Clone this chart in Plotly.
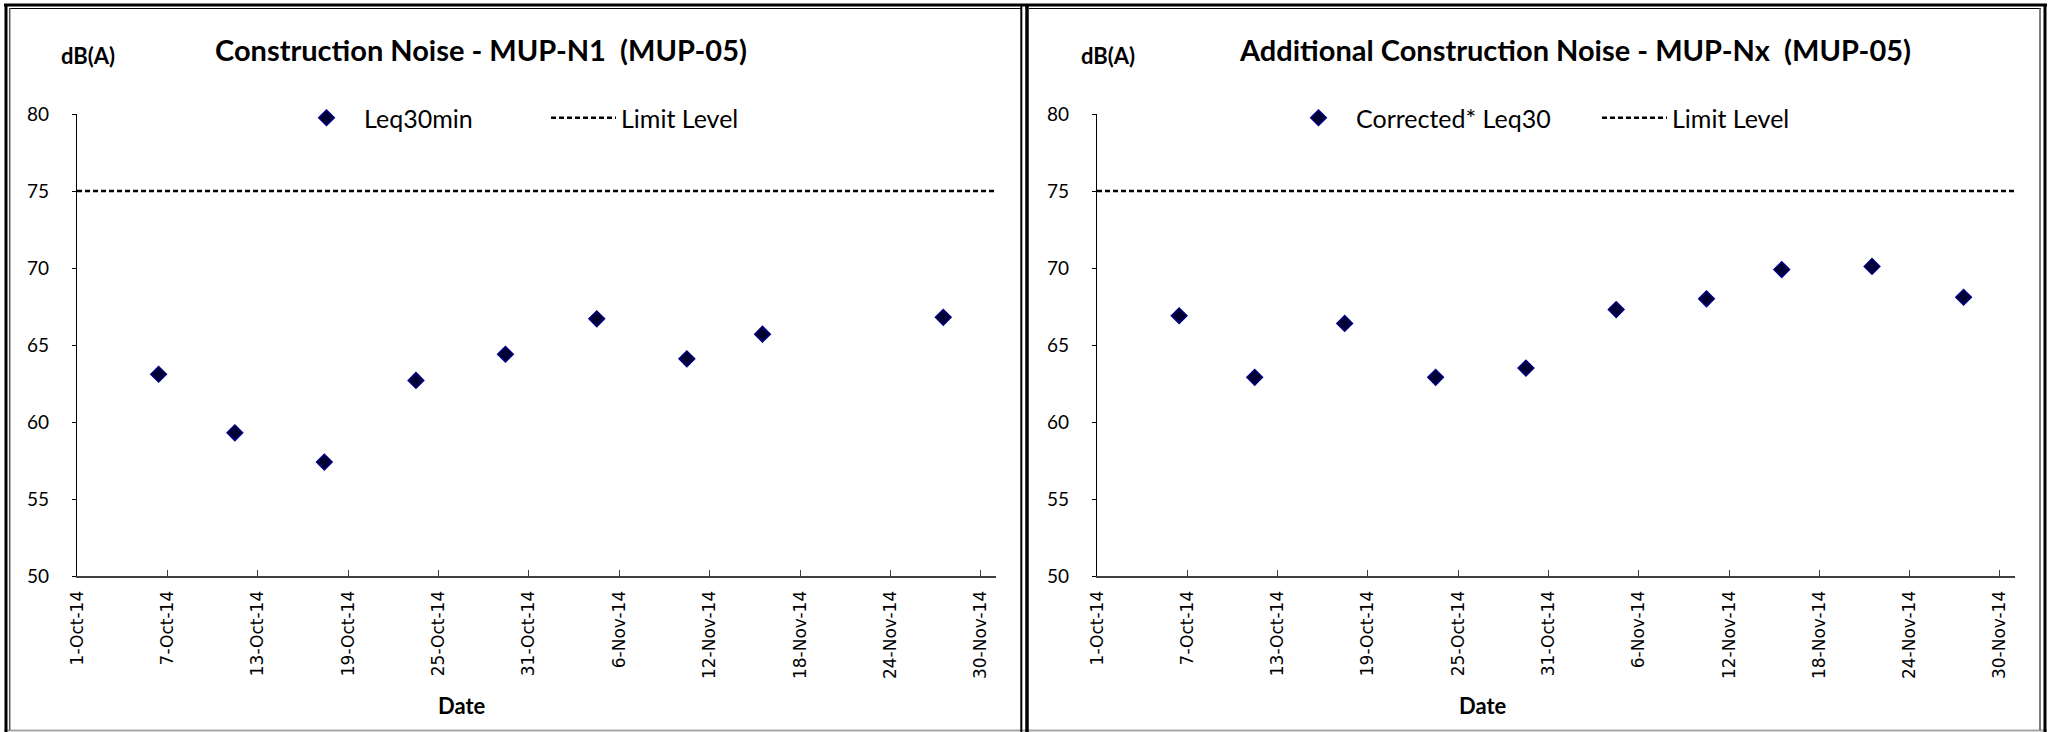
import plotly.graph_objects as go

# ---------------- data ----------------
left_dates = ["2014-10-06 10:00", "2014-10-11 11:30", "2014-10-17 10:00", "2014-10-23 12:00",
              "2014-10-29 10:30", "2014-11-04 12:00", "2014-11-10 11:30", "2014-11-15 12:00",
              "2014-11-27 12:00"]
left_leq30 = [63.1, 59.3, 57.4, 62.7, 64.4, 66.7, 64.1, 65.7, 66.8]

right_dates = ["2014-10-06 11:00", "2014-10-11 11:30", "2014-10-17 11:00", "2014-10-23 12:00",
               "2014-10-29 12:00", "2014-11-04 12:00", "2014-11-10 12:00", "2014-11-15 12:00",
               "2014-11-21 12:00", "2014-11-27 14:00"]
right_corrected = [66.9, 62.9, 66.4, 62.9, 63.5, 67.3, 68.0, 69.9, 70.1, 68.1]

limit_dates = ["2014-10-01", "2014-12-01"]
limit_level = [75, 75]

tick_dates = ["2014-10-01", "2014-10-07", "2014-10-13", "2014-10-19", "2014-10-25", "2014-10-31",
              "2014-11-06", "2014-11-12", "2014-11-18", "2014-11-24", "2014-11-30"]
tick_labels = ["1-Oct-14", "7-Oct-14", "13-Oct-14", "19-Oct-14", "25-Oct-14", "31-Oct-14",
               "6-Nov-14", "12-Nov-14", "18-Nov-14", "24-Nov-14", "30-Nov-14"]
y_ticks = [50, 55, 60, 65, 70, 75, 80]

titles = ["Construction Noise - MUP-N1\u00a0\u00a0(MUP-05)",
          "Additional Construction Noise - MUP-Nx\u00a0\u00a0(MUP-05)"]
series_names = ["Leq30min", "Corrected* Leq30"]

# ---------------- layout helpers ----------------
W, H = 2049, 732
def px(x):
    return x / W
def py(y):
    return 1 - y / H

CAL = "Lato, Calibri, Carlito, sans-serif"
MARK_FILL = "#000033"
MARK_LINE = "#00007f"

fig = go.Figure()

panels = [
    dict(xa="x", ya="y", leg="legend", dates=left_dates, vals=left_leq30),
    dict(xa="x2", ya="y2", leg="legend2", dates=right_dates, vals=right_corrected),
]

for i, p in enumerate(panels):
    fig.add_trace(go.Scatter(
        x=p["dates"], y=p["vals"], mode="markers", name=series_names[i],
        marker=dict(symbol="diamond", size=12, color=MARK_FILL,
                    line=dict(color=MARK_LINE, width=1.5)),
        xaxis=p["xa"], yaxis=p["ya"], legend=p["leg"], hoverinfo="x+y"))
    fig.add_trace(go.Scatter(
        x=limit_dates, y=limit_level, mode="lines", name="Limit Level",
        line=dict(color="black", width=2.5, dash="5px,3px"),
        xaxis=p["xa"], yaxis=p["ya"], legend=p["leg"], hoverinfo="skip"))

ydom = (py(576), py(114))
xcommon = dict(type="date", range=["2014-10-01", "2014-12-01"], tickvals=tick_dates,
               ticktext=tick_labels, tickangle=-90, ticks="inside", ticklen=6,
               tickcolor="#404040", tickwidth=1.2, showline=True, linecolor="#404040",
               linewidth=2, showgrid=False, zeroline=False, ticklabelstandoff=6,
               automargin=False,
               tickfont=dict(family="DejaVu Sans", size=17, color="black"))
ycommon = dict(range=[50, 80], tickvals=y_ticks, ticks="outside", ticklen=4,
               tickcolor="black", tickwidth=1, showline=True, linecolor="black",
               linewidth=1.2, showgrid=False, zeroline=False, ticklabelstandoff=19,
               automargin=False,
               tickfont=dict(family=CAL, size=19, color="black"))

fig.update_layout(
    template="none",
    width=W, height=H, autosize=False,
    margin=dict(l=0, r=0, t=0, b=0, pad=0),
    paper_bgcolor="white", plot_bgcolor="white",
    xaxis=dict(domain=(px(77), px(996)), anchor="y", **xcommon),
    yaxis=dict(domain=ydom, anchor="x", **ycommon),
    xaxis2=dict(domain=(px(1097), px(2015)), anchor="y2", **xcommon),
    yaxis2=dict(domain=ydom, anchor="x2", **ycommon),
    legend=dict(orientation="h", x=px(289), y=py(118), xanchor="left", yanchor="middle",
                itemwidth=65, entrywidth=177, bgcolor="rgba(0,0,0,0)",
                font=dict(family=CAL, size=25, color="black"), tracegroupgap=0),
    legend2=dict(orientation="h", x=px(1281), y=py(118), xanchor="left", yanchor="middle",
                 itemwidth=65, entrywidth=236, bgcolor="rgba(0,0,0,0)",
                 font=dict(family=CAL, size=25, color="black"), tracegroupgap=0),
    showlegend=True,
)

# titles and axis labels
for x, t in ((481, titles[0]), (1575, titles[1])):
    fig.add_annotation(x=px(x), y=py(49), xref="paper", yref="paper", text="<b>%s</b>" % t,
                       showarrow=False, xanchor="center", yanchor="middle",
                       font=dict(family=CAL, size=29, color="black"))
for x in (88, 1108):
    fig.add_annotation(x=px(x), y=py(55), xref="paper", yref="paper", text="<b>dB(A)</b>",
                       showarrow=False, xanchor="center", yanchor="middle",
                       font=dict(family=CAL, size=22, color="black"))
for x in (462, 1483):
    fig.add_annotation(x=px(x), y=py(705), xref="paper", yref="paper", text="<b>Date</b>",
                       showarrow=False, xanchor="center", yanchor="middle",
                       font=dict(family=CAL, size=22, color="black"))

# panel frames
def hline(x0, x1, y, w, c):
    fig.add_shape(type="line", xref="paper", yref="paper", x0=px(x0), x1=px(x1),
                  y0=py(y), y1=py(y), line=dict(color=c, width=w))
def vline(x, y0, y1, w, c):
    fig.add_shape(type="line", xref="paper", yref="paper", x0=px(x), x1=px(x),
                  y0=py(y0), y1=py(y1), line=dict(color=c, width=w))

hline(4, 2047, 5, 3, "black")
hline(9, 1021, 8.5, 1.2, "black")
hline(1029, 2041, 8.5, 1.2, "black")
hline(4, 2047, 730.5, 2, "#a6a6a6")
vline(6, 4, 732, 3, "black")
vline(9.7, 8, 730, 1.5, "#555555")
vline(1021.3, 4, 732, 2, "black")
vline(1027, 4, 732, 3.5, "black")
vline(2040, 8, 730, 1.5, "#555555")
vline(2045, 4, 732, 3, "black")

fig.write_html("out.html", config={"displayModeBar": False},
               post_script="document.body.style.margin='0';document.body.style.overflow='hidden';")
